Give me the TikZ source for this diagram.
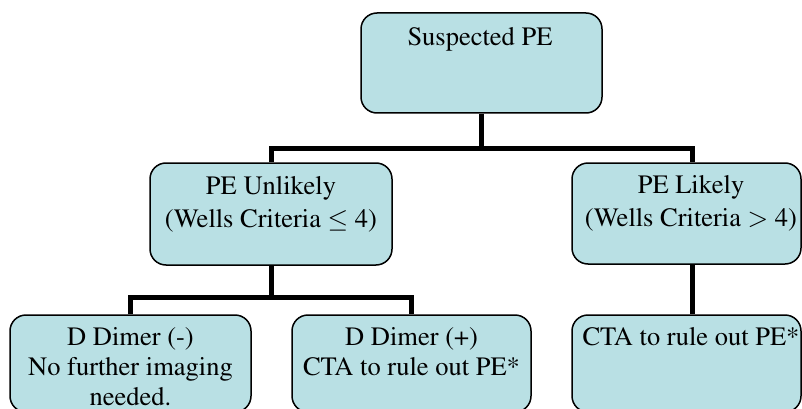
\documentclass[tikz,border=0pt]{standalone}
\usepackage[T1]{fontenc}
\usepackage{mathptmx}
\usetikzlibrary{calc}
\definecolor{boxfill}{RGB}{185,224,228}
\tikzset{
  box/.style={draw=black, line width=1.5pt, fill=boxfill, rounded corners=16pt, inner sep=0pt},
  conn/.style={draw=black, line width=5pt, line join=miter},
  txtmid/.style={inner sep=0pt, anchor=north, align=center, font=\fontsize{26.5}{33}\selectfont},
  txtlow/.style={inner sep=0pt, anchor=north, align=center, font=\fontsize{26.5}{30}\selectfont},
}
\newcommand{\mystrut}{\rule{0pt}{20pt}}
\begin{document}
\begin{tikzpicture}[x=1pt,y=-1pt]
\useasboundingbox (0,0) rectangle (802,409);
\clip (0,0) rectangle (802,409);
% boxes
\node[box, minimum width=241pt, minimum height=100pt] (top) at (481.5,63) {};
\node[box, minimum width=242pt, minimum height=102pt] (ml) at (271,214) {};
\node[box, minimum width=229pt, minimum height=101pt] (mr) at (686.5,213.5) {};
\node[box, minimum width=241pt, minimum height=97pt] (bl) at (130.5,363.5) {};
\node[box, minimum width=239pt, minimum height=97pt] (bm) at (411.5,363.5) {};
\node[box, minimum width=229pt, minimum height=97pt] (br) at (686.5,363.5) {};
% texts
\node[txtmid] (ttop) at (480,25) {\mystrut Suspected PE};
\node[txtmid] (tml) at (271,174) {\mystrut PE Unlikely\\(Wells Criteria $\leq$ 4)};
\node[txtmid] (tmr) at (691,173) {\mystrut PE Likely\\(Wells Criteria $>$ 4)};
\node[txtlow] (tbl) at (130.5,325) {\mystrut D Dimer (-)\\No further imaging\\needed.};
\node[txtlow] (tbm) at (411.5,325) {\mystrut D Dimer (+)\\CTA to rule out PE*};
\node[txtlow] (tbr) at (691,325) {\mystrut CTA to rule out PE*};
% junctions
\coordinate (j1) at (481.5,148);
\coordinate (j2) at (271,297);
\coordinate (mrin) at ($(mr.north)+(5.5,0)$);
% connectors
\draw[conn] (top.south) -- (j1);
\draw[conn] (ml.north) |- (j1) -| (mrin);
\draw[conn] (ml.south) -- (j2);
\draw[conn] (bl.north) |- (j2) -| (bm.north);
\draw[conn] (mr.south -| mrin) -- (br.north -| mrin);
\end{tikzpicture}
\end{document}
